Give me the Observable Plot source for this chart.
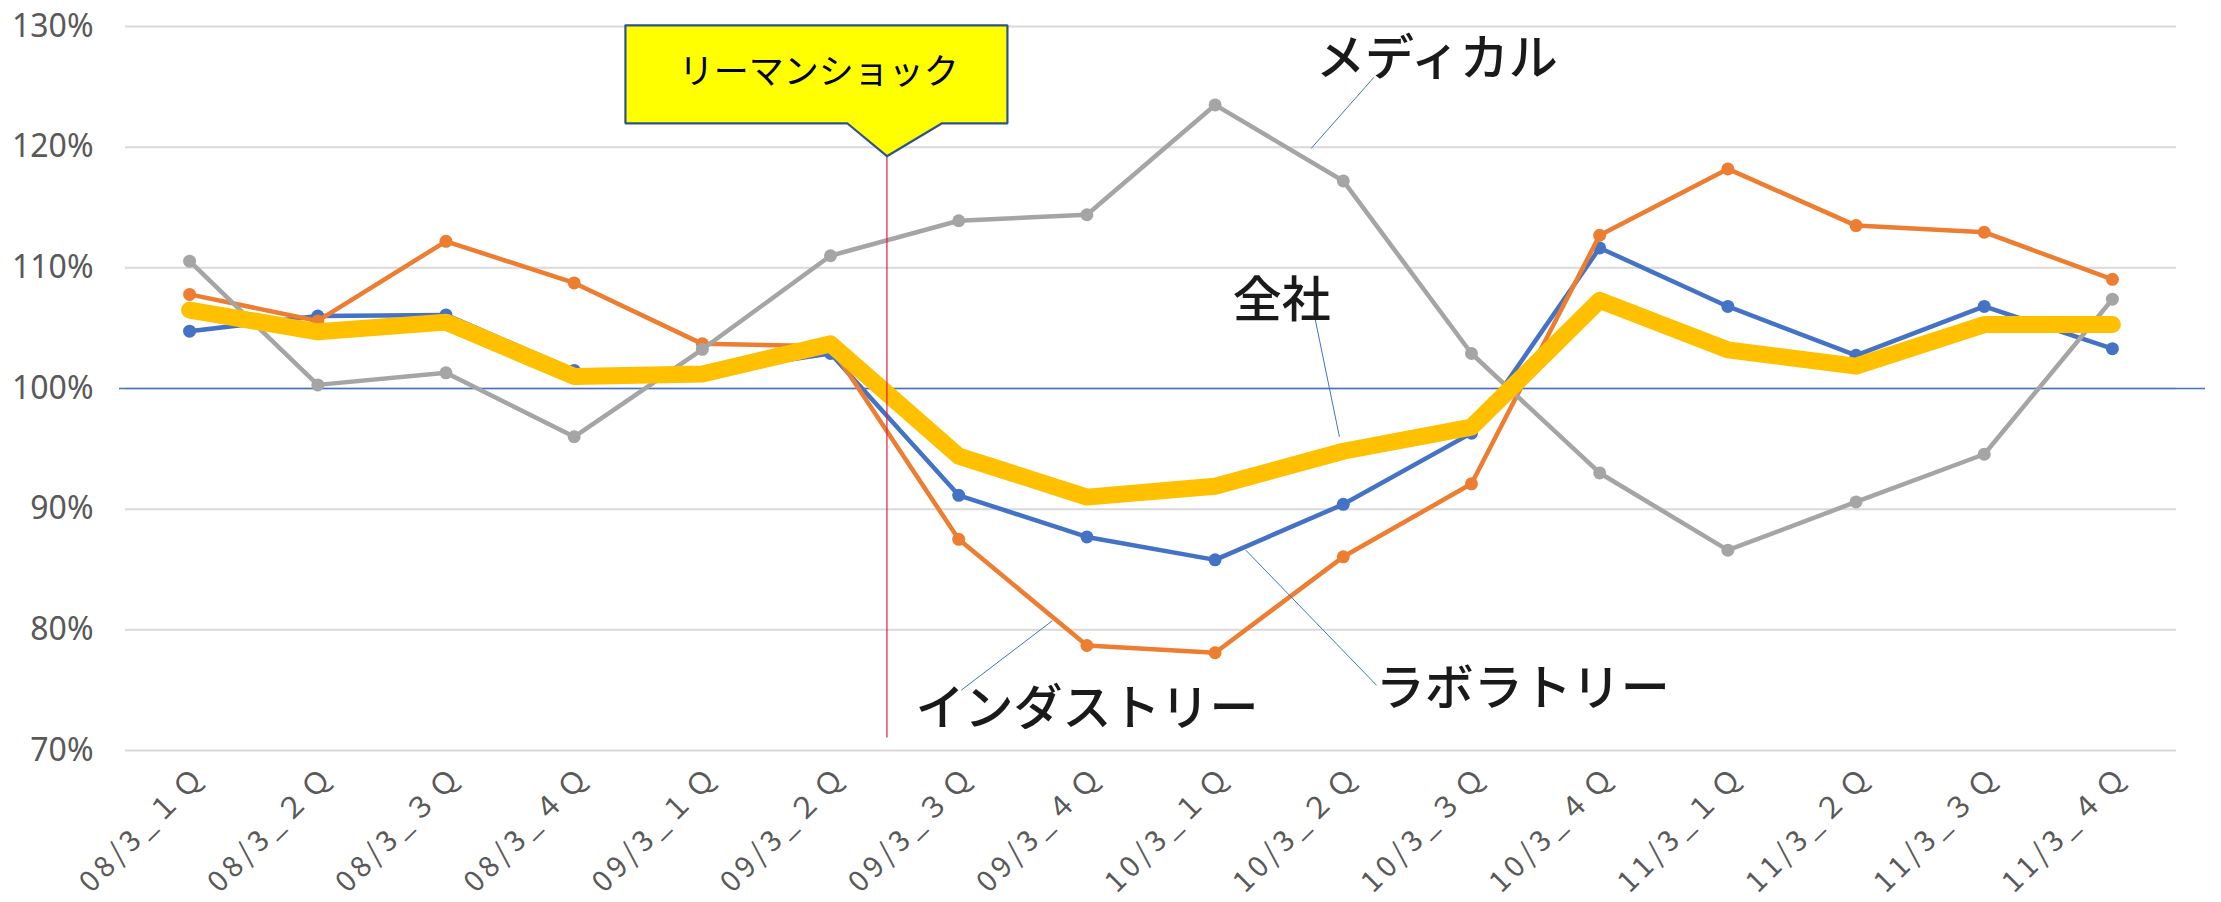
<!DOCTYPE html>
<html>
<head>
<meta charset="utf-8">
<script src="https://cdn.jsdelivr.net/npm/d3@7"></script>
<script src="https://cdn.jsdelivr.net/npm/@observablehq/plot@0.6"></script>
<style>
  html, body { margin: 0; padding: 0; background: #ffffff; }
  #chart svg { display: block; }
  #chart g[aria-label="x-axis tick label"] text { letter-spacing: 4.5px; }
  #chart g[aria-label="callout label"] text { letter-spacing: 2px; }
</style>
</head>
<body>
<div id="chart"></div>
<script>
// ---- categories (x) ----
const quarters = [
  "08/3_１Ｑ", "08/3_２Ｑ", "08/3_３Ｑ", "08/3_４Ｑ",
  "09/3_１Ｑ", "09/3_２Ｑ", "09/3_３Ｑ", "09/3_４Ｑ",
  "10/3_１Ｑ", "10/3_２Ｑ", "10/3_３Ｑ", "10/3_４Ｑ",
  "11/3_１Ｑ", "11/3_２Ｑ", "11/3_３Ｑ", "11/3_４Ｑ"
];

// ---- series values (%) ----
const laboratory = [104.75, 106.0, 106.1, 101.5, 101.3, 102.9, 91.15, 87.7, 85.8, 90.4, 96.3, 111.65, 106.8, 102.75, 106.8, 103.3];
const industry   = [107.8, 105.6, 112.2, 108.75, 103.7, 103.5, 87.5, 78.7, 78.1, 86.05, 92.1, 112.7, 118.2, 113.5, 112.95, 109.05];
const medical    = [110.55, 100.3, 101.3, 96.0, 103.25, 111.0, 113.9, 114.4, 123.5, 117.2, 102.9, 93.0, 86.6, 90.6, 94.55, 107.4];
const total      = [106.5, 104.7, 105.5, 101.0, 101.2, 103.7, 94.4, 91.0, 91.9, 94.8, 96.8, 107.3, 103.2, 101.85, 105.3, 105.3];

// ---- tick values ----
const yTicks = [70, 80, 90, 100, 110, 120, 130];
const baseline = [100];

// ---- annotations (data units: x = quarter index, y = %) ----
const shockX = [5.44];
const calloutShape = [
  [3.40, 130.1], [6.38, 130.1], [6.38, 121.98], [5.87, 121.98],
  [5.44, 119.25], [5.13, 121.98], [3.40, 121.98], [3.40, 130.1]
];
const calloutText = [{x: 4.90, y: 126.2, text: "リーマンショック"}];
const seriesLabels = [
  {x: 9.73, y: 127.3, text: "メディカル"},
  {x: 8.52, y: 107.2, text: "全社"},
  {x: 7.00, y: 73.4, text: "インダストリー"},
  {x: 10.40, y: 75.1, text: "ラボラトリー"}
];
const leaders = [
  {x1: 9.24, y1: 125.8, x2: 8.75, y2: 119.9},
  {x1: 8.77, y1: 106.3, x2: 8.97, y2: 96.0},
  {x1: 6.73, y1: 80.75, x2: 6.02, y2: 75.0},
  {x1: 8.24, y1: 86.6, x2: 9.26, y2: 75.4}
];

const idx = d3.range(quarters.length);
const toRows = (arr) => arr.map((v, i) => ({i, v}));

const colors = {lab: "#4472C4", ind: "#ED7D31", med: "#A5A5A5", tot: "#FFC000"};
const jp = "'Noto Sans CJK JP', 'Noto Sans', sans-serif";

const chart = Plot.plot({
  width: 2221,
  height: 902,
  marginLeft: 125,
  marginRight: 45,
  marginTop: 26,
  marginBottom: 152,
  x: {type: "linear", domain: [-0.5, 15.5]},
  y: {domain: [70, 130]},
  marks: [
    Plot.gridY(yTicks, {stroke: "#D9D9D9", strokeOpacity: 1, strokeWidth: 2}),
    Plot.axisY(yTicks, {
      tickSize: 0, tickPadding: 32, tickFormat: d => d + "%",
      fontSize: 32, fontFamily: "'Noto Sans', sans-serif", fill: "#595959"
    }),
    Plot.axisX(idx, {
      tickSize: 0, tickPadding: 20, tickRotate: -45, tickFormat: i => quarters[i],
      fontSize: 29, fontFamily: jp, fill: "#595959", dx: 12
    }),
    Plot.ruleY(baseline, {stroke: "#4472C4", strokeWidth: 1.5, insetLeft: -6, insetRight: -29}),
    // series
    Plot.line(toRows(laboratory), {x: "i", y: "v", stroke: colors.lab, strokeWidth: 4.5}),
    Plot.dot(toRows(laboratory), {x: "i", y: "v", r: 6.5, fill: colors.lab, stroke: "none"}),
    Plot.line(toRows(industry), {x: "i", y: "v", stroke: colors.ind, strokeWidth: 4.5}),
    Plot.dot(toRows(industry), {x: "i", y: "v", r: 6.5, fill: colors.ind, stroke: "none"}),
    Plot.line(toRows(medical), {x: "i", y: "v", stroke: colors.med, strokeWidth: 4.5}),
    Plot.dot(toRows(medical), {x: "i", y: "v", r: 6.5, fill: colors.med, stroke: "none"}),
    Plot.line(toRows(total), {x: "i", y: "v", stroke: colors.tot, strokeWidth: 17, strokeLinecap: "round", strokeLinejoin: "round"}),
    // Lehman shock marker
    Plot.ruleX(shockX, {y1: 119.25, y2: 71.03, stroke: "#E8193F", strokeWidth: 1.2}),
    Plot.line(calloutShape, {x: d => d[0], y: d => d[1], fill: "#FFFF00", stroke: "#2F528F", strokeWidth: 2.2, strokeLinejoin: "miter", curve: "linear"}),
    Plot.text(calloutText, {x: "x", y: "y", text: "text", fontSize: 35, fontFamily: jp, fill: "#000000", ariaLabel: "callout label", dx: 1}),
    // leader lines and series labels
    Plot.link(leaders, {x1: "x1", y1: "y1", x2: "x2", y2: "y2", stroke: "#4472C4", strokeWidth: 1}),
    Plot.text(seriesLabels, {x: "x", y: "y", text: "text", fontSize: 49, fontWeight: 500, fontFamily: jp, fill: "#1A1A1A"})
  ]
});

document.getElementById("chart").appendChild(chart);
</script>
</body>
</html>
